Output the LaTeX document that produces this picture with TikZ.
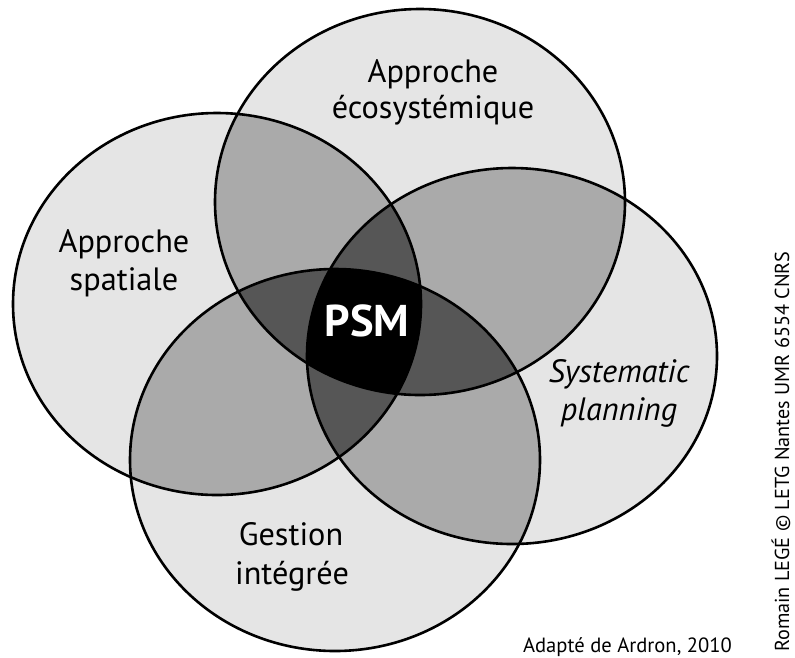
\documentclass[tikz,border=0pt]{standalone}
\usepackage{fontspec}
\setmainfont{PT Sans}
\begin{document}
\begin{tikzpicture}[x=1pt,y=-1pt]
\definecolor{levone}{gray}{0.9}
\definecolor{levtwo}{gray}{0.667}
\definecolor{levthree}{gray}{0.337}
\definecolor{levfour}{gray}{0}
\tikzset{
  lbl/.style={anchor=base,inner sep=0pt,font=\fontsize{32.3}{38}\selectfont},
  outline/.style={draw=black,line width=2.6pt}
}
\useasboundingbox (0,0) rectangle (795,657);
\def\pE{(420,202) ellipse [x radius=205pt, y radius=193pt]}
\def\pS{(217,304) ellipse [x radius=204pt, y radius=191pt]}
\def\pP{(512,356) ellipse [x radius=205pt, y radius=188pt]}
\def\pG{(335,460) ellipse [x radius=205pt, y radius=191pt]}
% single
\fill[levone] \pE; \fill[levone] \pS; \fill[levone] \pP; \fill[levone] \pG;
% pairs
\begin{scope}\clip \pE; \fill[levtwo] \pS; \fill[levtwo] \pP; \fill[levtwo] \pG; \end{scope}
\begin{scope}\clip \pS; \fill[levtwo] \pP; \fill[levtwo] \pG; \end{scope}
\begin{scope}\clip \pP; \fill[levtwo] \pG; \end{scope}
% triples
\begin{scope}\clip \pE; \clip \pS; \fill[levthree] \pP; \fill[levthree] \pG; \end{scope}
\begin{scope}\clip \pE; \clip \pP; \fill[levthree] \pG; \end{scope}
\begin{scope}\clip \pS; \clip \pP; \fill[levthree] \pG; \end{scope}
% all four
\begin{scope}\clip \pE; \clip \pS; \clip \pP; \fill[levfour] \pG; \end{scope}
% outlines
\draw[outline] \pE; \draw[outline] \pS; \draw[outline] \pP; \draw[outline] \pG;
% labels
\node[lbl] (e1) at (433,82) {Approche};
\node[lbl] (e2) at (433,118) {écosystémique};
\node[lbl] (s1) at (124,252) {Approche};
\node[lbl] (s2) at (124,290) {spatiale};
\node[lbl,font=\fontsize{32.3}{38}\selectfont\itshape] (p1) at (619,382) {Systematic};
\node[lbl,font=\fontsize{32.3}{38}\selectfont\itshape] (p2) at (619,420) {planning};
\node[lbl] (g1) at (291,545) {Gestion};
\node[lbl] (g2) at (292,584) {intégrée};
\node[lbl,text=white,font=\fontsize{44.5}{50}\selectfont\bfseries] (psm) at (367,336) {PSM};
\node[anchor=base east,inner sep=0pt,font=\fontsize{20.6}{24}\selectfont] (src) at (732,652) {Adapté de Ardron, 2010};
\node[anchor=base west,inner sep=0pt,rotate=90,font=\fontsize{20.2}{24}\selectfont] (cred) at (789,652) {Romain LEGÉ © LETG Nantes UMR 6554 CNRS};
\end{tikzpicture}
\end{document}
